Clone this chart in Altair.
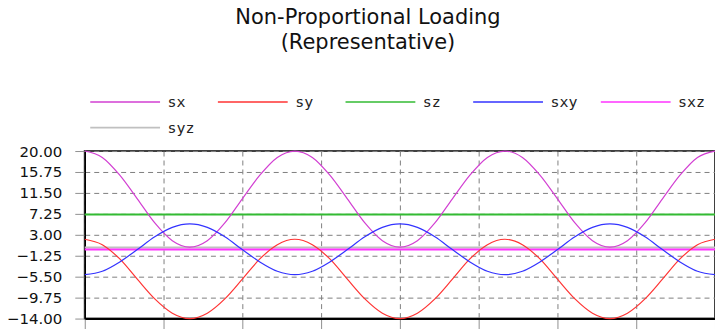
import altair as alt
import pandas as pd

# sample positions (degrees of loading cycle)
angle = [0, 30, 60, 90, 120, 150, 180, 210, 240, 270, 300, 330,
         360, 390, 420, 450, 480, 510, 540, 570, 600, 630, 660, 690,
         720, 750, 780, 810, 840, 870, 900, 930, 960, 990, 1020, 1050, 1080]

sx = [20.0, 18.7, 15.1, 10.3, 5.4, 1.8, 0.5, 1.8, 5.4, 10.3, 15.1, 18.7,
      20.0, 18.7, 15.1, 10.3, 5.4, 1.8, 0.5, 1.8, 5.4, 10.3, 15.1, 18.7,
      20.0, 18.7, 15.1, 10.3, 5.4, 1.8, 0.5, 1.8, 5.4, 10.3, 15.1, 18.7, 20.0]
sy = [2.1, 1.0, -1.9, -6.0, -10.0, -12.9, -14.0, -12.9, -10.0, -6.0, -1.9, 1.0,
      2.1, 1.0, -1.9, -6.0, -10.0, -12.9, -14.0, -12.9, -10.0, -6.0, -1.9, 1.0,
      2.1, 1.0, -1.9, -6.0, -10.0, -12.9, -14.0, -12.9, -10.0, -6.0, -1.9, 1.0, 2.1]
sxy = [-5.1, -4.4, -2.5, 0.0, 2.6, 4.5, 5.2, 4.5, 2.6, 0.0, -2.5, -4.4,
       -5.1, -4.4, -2.5, 0.0, 2.6, 4.5, 5.2, 4.5, 2.6, 0.0, -2.5, -4.4,
       -5.1, -4.4, -2.5, 0.0, 2.6, 4.5, 5.2, 4.5, 2.6, 0.0, -2.5, -4.4, -5.1]

# constant components (value at start and end of the cycle)
const_angle = [0, 1080]
sz = [7.1, 7.1]
syz = [0.4, 0.4]
sxz = [0.0, 0.0]

series = ["sx", "sy", "sz", "sxy", "sxz", "syz"]
colors = ["#D23FD2", "#FF3333", "#33BB33", "#3333FF", "#FF33FF", "#C0C0C0"]
y_ticks = [-14.0, -9.75, -5.5, -1.25, 3.0, 7.25, 11.5, 15.75, 20.0]
x_ticks = [0, 135, 270, 405, 540, 675, 810, 945, 1080]

curves = pd.concat([
    pd.DataFrame({"angle": angle, "value": v, "series": n, "order": i})
    for i, (n, v) in enumerate([("sx", sx), ("sy", sy), ("sxy", sxy)])
])
consts = pd.concat([
    pd.DataFrame({"angle": const_angle, "value": v, "series": n, "order": i})
    for i, (n, v) in enumerate([("sz", sz), ("syz", syz), ("sxz", sxz)])
])

color = alt.Color(
    "series:N",
    scale=alt.Scale(domain=series, range=colors),
    sort=series,
    legend=alt.Legend(
        title=None, orient="none", direction="horizontal", columns=5,
        legendX=33, legendY=-57,
        symbolType="M-7,0H7", symbolSize=100, symbolStrokeWidth=1.6,
        labelOffset=35, labelFont="DejaVu Sans Mono", labelFontSize=15,
        labelColor="#222222", columnPadding=19, rowPadding=10,
        gridAlign="all", padding=0,
    ),
)

x = alt.X("angle:Q", scale=alt.Scale(domain=[0, 1080], nice=False),
          axis=alt.Axis(values=x_ticks, labels=False, title=None,
                        tickSize=10, tickColor="#909090",
                        domainColor="#000000", domainWidth=2,
                        grid=True, gridColor="#808080", gridDash=[5, 4]))
y = alt.Y("value:Q", scale=alt.Scale(domain=[-14, 20], nice=False, zero=False),
          axis=alt.Axis(values=y_ticks, format=".2f", title=None,
                        tickSize=10, tickColor="#909090", labelPadding=13,
                        labelFont="DejaVu Sans", labelFontSize=15, labelColor="#111111",
                        domainColor="#000000", domainWidth=1.5,
                        grid=True, gridColor="#808080", gridDash=[5, 4]))

const_layer = alt.Chart(consts).mark_line(strokeWidth=2).encode(
    x=x, y=y, color=color, detail="series:N")
curve_layer = alt.Chart(curves).mark_line(strokeWidth=1.2, interpolate="monotone").encode(
    x=x, y=y, color=color, detail="series:N")

chart = alt.layer(const_layer, curve_layer).properties(
    width=632, height=168,
    autosize=alt.AutoSizeParams(type="none"),
    padding={"left": 85, "top": 151, "right": 0, "bottom": 10},
    title=alt.TitleParams(
        ["Non-Proportional Loading", "(Representative)"],
        font="DejaVu Sans", fontSize=21, fontWeight="normal", color="#111111",
        anchor="middle", dx=-32, offset=41, lineHeight=25,
    ),
).configure_view(stroke="#404040", strokeWidth=2)

chart.save("out.html", embed_options={"renderer": "svg", "actions": False})
